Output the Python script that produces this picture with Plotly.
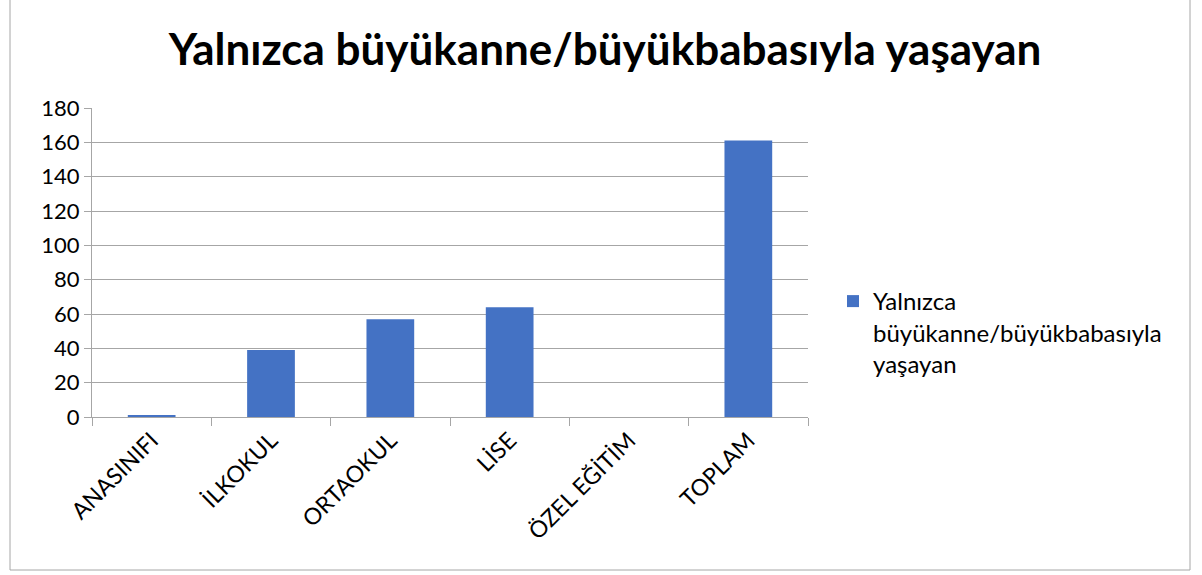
import plotly.graph_objects as go

categories = ["ANASINIFI", "İLKOKUL", "ORTAOKUL", "LİSE", "ÖZEL EĞİTİM", "TOPLAM"]
values = [1, 39, 57, 64, 0, 161]
legend_label = "Yalnızca<br>büyükanne/büyükbabasıyla<br>yaşayan"
title_text = "Yalnızca büyükanne/büyükbabasıyla yaşayan"
y_ticks = [0, 20, 40, 60, 80, 100, 120, 140, 160, 180]

FONT = "Lato, Open Sans, sans-serif"

fig = go.Figure()
fig.add_trace(go.Bar(
    x=categories, y=values, name=legend_label,
    marker=dict(color="#4472C4", line=dict(width=0)),
    showlegend=True,
))

W, H = 1202, 575
L, R, T, B = 92, 808, 108, 417
pw, ph = R - L, B - T

def px_x(x):
    return (x - L) / pw

def px_y(y):
    return (B - y) / ph

fig.update_layout(
    width=W, height=H,
    margin=dict(l=L, r=W - R, t=T, b=H - B),
    paper_bgcolor="white", plot_bgcolor="white",
    font=dict(family=FONT, size=22, color="#000000"),
    bargap=0.6,
    title=dict(text="<b>" + title_text + "</b>", x=605 / W, xanchor="center",
               y=1 - 50 / H, yanchor="middle",
               font=dict(family=FONT, size=44, color="#000000")),
    xaxis=dict(
        type="category", tickangle=-45, showgrid=False,
        showline=True, linecolor="#A6A6A6", linewidth=1,
        ticks="outside", tickson="boundaries", ticklen=8, tickcolor="#A6A6A6",
        tickfont=dict(family=FONT, size=23, color="#000000"),
        fixedrange=True,
    ),
    yaxis=dict(
        range=[0, 180], tickvals=y_ticks, showgrid=True, gridcolor="#A6A6A6",
        gridwidth=1, showline=True, linecolor="#A6A6A6", linewidth=1,
        ticks="outside", ticklen=7, tickcolor="#A6A6A6",
        tickfont=dict(family=FONT, size=22, color="#000000"), zeroline=False,
        fixedrange=True,
    ),
    legend=dict(
        x=px_x(833), y=px_y(279), xanchor="left", yanchor="top",
        valign="top",
        font=dict(family=FONT, size=24, color="#000000"),
        bgcolor="rgba(0,0,0,0)", itemwidth=30,
    ),
    shapes=[dict(
        type="rect", xref="paper", yref="paper",
        x0=px_x(10), x1=px_x(1190), y0=px_y(570), y1=px_y(-3),
        line=dict(color="#A6A6A6", width=1), layer="below",
    )],
)

fig.write_html("out.html", config={"displayModeBar": False},
               post_script="document.body.style.margin='0';")
